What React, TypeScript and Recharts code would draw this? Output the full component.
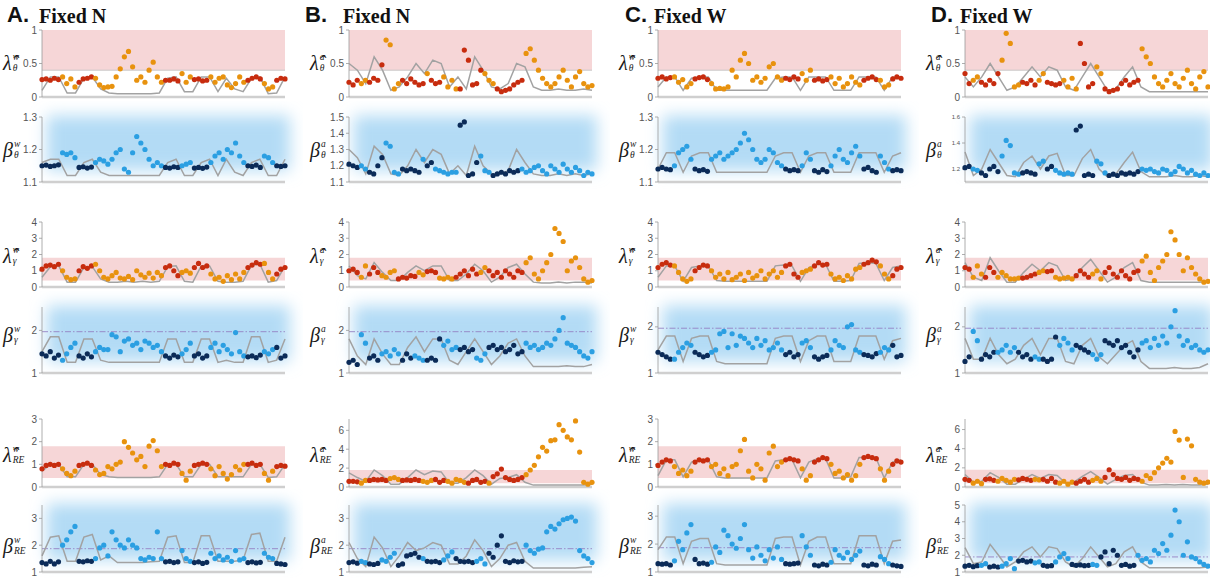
import React from 'react';
import { ComposedChart, Scatter, Line, XAxis, YAxis, ReferenceArea, ReferenceLine } from 'recharts';

const RED = '#c72c0e';
const ORANGE = '#e8920e';
const SKY = '#2b9fe2';
const NAVY = '#0b2b58';
const GRAY = '#a2a2a2';
const PINK = '#f6d6d7';
const GLOW = '#b3dbf5';
const PLOT_W = 243;

// Dark/light regime as alternating run lengths, starting with the dark regime
const stateA = [5, 4, 4, 17, 4, 3, 4, 9, 4, 3, 3];
const stateC = [4, 5, 4, 18, 4, 3, 4, 8, 4, 3, 3];
const stateB1 = [3, 2, 4, 4, 6, 1, 3, 4, 6, 3, 7, 17];
const stateB2 = [3, 2, 4, 4, 5, 1, 2, 6, 5, 3, 7, 18];
const stateB3 = [3, 2, 3, 4, 5, 2, 3, 4, 6, 2, 9, 17];
const stateB4 = [3, 2, 3, 5, 3, 3, 4, 4, 4, 3, 9, 17];
const stateB5 = [3, 2, 5, 3, 5, 3, 3, 5, 5, 1, 8, 17];
const stateB6 = [3, 2, 3, 4, 6, 1, 4, 3, 5, 3, 9, 17];
const stateD1 = [2, 2, 5, 5, 4, 2, 4, 4, 4, 2, 9, 17];
const stateD2 = [2, 2, 5, 5, 4, 2, 2, 5, 5, 3, 8, 17];
const stateD3 = [2, 3, 3, 6, 4, 2, 2, 5, 4, 3, 9, 17];
const stateD4 = [2, 2, 4, 5, 4, 2, 4, 4, 4, 3, 9, 17];
const stateD5 = [2, 3, 3, 5, 4, 2, 4, 4, 4, 3, 9, 17];
const stateD6 = [4, 2, 3, 4, 4, 2, 3, 4, 5, 2, 9, 18];

// Column A
const A1_dots = [.26,.27,.25,.28,.26,.3,.2,.27,.15,.22,.27,.28,.3,.28,.18,.14,.15,.16,.3,.42,.6,.68,.45,.25,.3,.22,.4,.52,.3,.22,.25,.25,.27,.24,.35,.22,.3,.26,.27,.24,.25,.3,.22,.28,.3,.18,.14,.2,.3,.22,.25,.28,.3,.27,.2,.12,.15,.25,.28,.27];
const A1_gray = [.1,.3,.3,.06,.06,.28,.3,.12,.06,.05,.05,.05,.05,.05,.06,.28,.3,.08,.08,.3,.3,.08,.28,.12,.08,.28,.3,.05,.06,.3];
const A2_dots = [1.15,1.152,1.148,1.15,1.153,1.19,1.185,1.19,1.175,1.145,1.147,1.143,1.146,1.16,1.17,1.165,1.155,1.17,1.19,1.2,1.14,1.13,1.19,1.24,1.22,1.2,1.17,1.15,1.16,1.15,1.145,1.143,1.147,1.145,1.15,1.155,1.16,1.143,1.145,1.142,1.146,1.16,1.18,1.19,1.17,1.2,1.19,1.22,1.18,1.16,1.15,1.148,1.152,1.145,1.18,1.175,1.16,1.15,1.148,1.15];
const A2_gray = [1.16,1.17,1.17,1.12,1.12,1.16,1.17,1.13,1.12,1.12,1.12,1.12,1.12,1.12,1.12,1.16,1.17,1.12,1.12,1.16,1.17,1.12,1.17,1.13,1.12,1.16,1.17,1.12,1.12,1.17];
const A3_dots = [1.1,1.3,1.35,1.25,1.4,1.0,0.6,0.45,0.5,1.0,1.25,1.15,1.3,1.4,1.0,0.6,0.5,0.7,0.9,0.55,0.5,0.65,0.45,1.0,0.75,0.6,0.85,0.55,0.9,0.7,1.2,1.3,1.0,0.7,0.9,1.0,0.85,1.2,1.45,1.2,1.3,0.8,0.5,0.6,0.35,0.7,0.45,0.8,0.5,0.9,1.2,1.35,1.5,1.4,1.45,0.9,0.5,0.8,1.1,1.2];
const A3_gray = [0.6,1.25,1.3,0.3,0.3,1.2,1.25,0.5,0.3,0.3,0.35,0.3,0.35,0.3,0.35,1.25,1.3,0.35,0.3,1.3,1.3,0.35,0.3,0.3,0.35,1.35,1.4,0.3,0.4,1.3];
const A4_dots = [1.45,1.4,1.5,1.35,1.42,1.3,1.45,1.6,1.7,1.4,1.35,1.45,1.38,1.5,1.6,1.55,1.55,1.9,1.85,1.5,1.75,1.8,1.65,1.7,1.55,1.75,1.7,1.6,1.65,1.5,1.4,1.35,1.42,1.38,1.45,1.55,1.7,1.4,1.45,1.35,1.4,1.6,1.7,1.5,1.65,1.55,1.45,1.95,1.5,1.4,1.38,1.4,1.36,1.42,1.5,1.45,1.55,1.6,1.35,1.4];
const A4_gray = [1.5,1.85,1.85,1.25,1.25,1.8,1.8,1.3,1.25,1.25,1.25,1.25,1.25,1.25,1.25,1.8,1.8,1.25,1.25,1.8,1.8,1.25,1.3,1.25,1.25,1.85,1.85,1.25,1.3,1.8];
const A5_dots = [0.8,0.95,1.0,0.95,1.0,0.8,0.6,0.5,0.7,0.95,1.0,1.05,0.95,0.75,0.55,0.6,0.9,0.8,1.0,1.1,2.0,1.75,1.5,1.2,1.35,0.9,1.8,2.05,1.6,0.9,1.0,0.95,1.05,1.0,0.6,0.3,0.7,0.95,1.0,1.05,1.0,0.8,0.5,0.9,0.6,0.35,0.55,0.9,0.75,1.0,1.0,1.05,0.95,1.0,0.6,0.3,0.7,0.9,0.95,0.92];
const A5_gray = [0.7,1.0,1.0,0.45,0.45,1.0,1.0,0.55,0.45,0.42,0.42,0.42,0.42,0.42,0.45,1.0,1.0,0.45,0.45,1.0,1.0,0.45,0.45,0.45,0.45,1.0,1.0,0.42,0.45,1.0];
const A6_dots = [1.35,1.3,1.4,1.3,1.38,2.0,2.2,2.5,2.7,1.4,1.38,1.42,1.4,1.5,1.9,2.0,1.6,2.5,2.2,2.0,1.9,2.2,2.0,1.9,1.5,1.45,1.55,1.5,2.5,1.5,1.38,1.4,1.35,1.38,1.8,1.5,1.4,1.35,1.38,1.32,1.36,1.7,1.5,1.6,1.45,1.55,1.4,1.8,1.45,1.5,1.35,1.38,1.34,1.36,1.7,1.55,1.5,1.32,1.3,1.28];
const A6_gray = [1.6,2.3,2.35,1.4,1.4,2.3,2.4,1.45,1.6,1.35,1.35,1.35,1.35,1.38,1.4,2.3,2.35,1.35,1.35,2.35,2.35,1.4,1.4,1.4,1.45,2.4,2.45,1.4,1.4,2.3];

// Column B
const B1_dots = [.22,.18,.25,.2,.25,.22,.28,.25,.48,.85,.78,.12,.2,.25,.2,.27,.22,.18,.2,.35,.25,.2,.22,.3,.15,.25,.12,.12,.7,.55,.18,.2,.4,.35,.25,.2,.12,.08,.1,.12,.18,.22,.25,.65,.72,.55,.4,.28,.2,.15,.2,.3,.4,.25,.15,.3,.38,.2,.15,.17];
const B1_gray = [.5,.4,.2,.6,.4,.1,.15,.3,.5,.35,.55,.5,.15,.3,.12,.6,.4,.15,.12,.2,.5,.45,.15,.1,.1,.12,.1,.1,.12,.1];
const B2_dots = [1.21,1.2,1.19,1.2,1.18,1.16,1.15,1.2,1.25,1.34,1.32,1.16,1.15,1.18,1.17,1.18,1.17,1.16,1.24,1.2,1.22,1.18,1.17,1.16,1.15,1.16,1.16,1.45,1.47,1.14,1.15,1.22,1.26,1.17,1.16,1.14,1.15,1.16,1.15,1.17,1.16,1.17,1.18,1.16,1.17,1.19,1.2,1.17,1.15,1.2,1.18,1.16,1.21,1.18,1.16,1.19,1.17,1.14,1.16,1.15];
const B2_gray = [1.3,1.25,1.15,1.32,1.27,1.15,1.14,1.2,1.3,1.22,1.3,1.27,1.15,1.2,1.14,1.32,1.2,1.15,1.15,1.17,1.3,1.22,1.15,1.14,1.14,1.15,1.14,1.15,1.14,1.15];
const B3_dots = [1.0,1.1,0.9,0.6,1.3,0.8,1.2,0.9,0.7,0.6,0.9,1.0,0.5,0.6,0.55,0.7,0.65,0.9,0.75,0.95,1.0,0.9,0.55,0.5,0.6,0.5,0.6,0.8,1.0,0.7,1.1,0.8,0.9,1.2,1.0,0.7,0.9,0.6,1.0,0.8,0.6,1.0,0.9,1.5,1.8,0.8,0.5,1.0,1.5,2.0,3.6,3.3,2.8,1.0,1.6,1.8,1.2,0.5,0.3,0.4];
const B3_gray = [1.3,0.7,0.5,1.5,0.9,0.4,0.4,0.9,1.3,1.0,1.3,1.3,0.4,0.4,0.8,1.4,1.0,0.3,0.6,1.2,1.4,0.8,0.3,0.25,0.25,0.3,0.25,0.3,0.3,0.25];
const B4_dots = [1.25,1.3,1.2,1.9,1.7,1.35,1.4,1.3,1.45,1.5,1.4,1.55,1.45,1.3,1.45,1.35,1.4,1.35,1.3,1.3,1.35,1.3,1.8,1.65,1.75,1.55,1.6,1.55,1.6,1.5,1.55,1.35,1.3,1.45,1.6,1.65,1.55,1.6,1.5,1.55,1.65,1.45,1.5,1.7,1.6,1.65,1.55,1.6,1.7,1.65,1.8,2.0,2.3,1.7,1.65,1.6,1.5,1.4,1.35,1.5];
const B4_gray = [1.8,1.4,1.2,1.8,1.45,1.2,1.2,1.6,1.85,1.5,1.8,1.8,1.3,1.2,1.5,1.8,1.5,1.2,1.4,1.7,1.8,1.4,1.15,1.15,1.15,1.15,1.17,1.15,1.15,1.2];
const B5_dots = [.6,.6,.55,.4,.7,.7,.8,.75,.8,.7,.9,1.0,.8,.7,.75,.7,.8,.7,.6,.5,.7,.8,.5,.7,.6,.4,.8,.7,.5,.4,.7,.8,.5,.6,.4,1.1,1.4,1.9,1.0,.8,.7,.8,1.0,1.3,1.8,2.3,3.2,4.2,3.8,4.9,5.0,6.6,6.0,5.3,5.0,7.0,3.7,.5,.3,.5];
const B5_gray = [1.5,1.0,0.6,1.8,1.2,0.3,0.3,1.0,1.8,1.3,1.7,1.6,0.4,0.4,1.0,1.8,1.2,0.3,0.9,1.0,1.3,0.5,0.2,0.2,0.2,0.2,0.2,0.2,0.2,0.3];
const B6_dots = [1.35,1.38,1.33,1.4,1.35,1.3,1.28,1.32,1.45,1.4,1.55,1.7,1.25,1.3,1.6,1.65,1.7,1.55,1.5,1.4,1.38,1.4,1.35,1.45,1.6,1.75,1.5,1.4,1.38,1.4,1.35,1.4,1.5,1.3,1.7,1.55,2.0,2.35,1.4,1.35,1.42,1.38,1.4,2.0,1.8,1.7,1.85,1.9,2.5,2.7,2.6,2.8,2.95,3.0,3.05,2.9,1.8,1.6,1.5,1.35];
const B6_gray = [2.1,1.5,1.2,2.3,1.9,1.2,1.6,2.1,1.8,1.9,2.1,2.0,1.3,1.3,1.6,2.2,1.8,1.2,1.5,2.0,2.1,1.4,1.15,1.15,1.15,1.15,1.15,1.15,1.18,1.2];

// Column C
const C1_dots = [.28,.3,.27,.29,.3,.22,.26,.15,.2,.27,.29,.3,.26,.2,.12,.13,.12,.15,.4,.3,.55,.65,.5,.25,.3,.22,.28,.45,.5,.3,.25,.28,.26,.3,.27,.35,.25,.4,.25,.27,.24,.26,.3,.2,.28,.15,.2,.3,.22,.18,.25,.28,.3,.26,.25,.15,.18,.27,.3,.28];
const C1_gray = [.15,.3,.3,.1,.28,.3,.3,.1,.1,.1,.1,.1,.1,.1,.28,.3,.3,.1,.3,.3,.3,.1,.1,.1,.3,.3,.3,.1,.3,.3];
const C2_dots = [1.14,1.145,1.14,1.138,1.15,1.19,1.2,1.21,1.17,1.14,1.135,1.138,1.133,1.17,1.18,1.19,1.17,1.18,1.19,1.2,1.22,1.25,1.23,1.2,1.17,1.16,1.17,1.2,1.19,1.16,1.15,1.14,1.135,1.138,1.135,1.15,1.19,1.17,1.135,1.13,1.138,1.132,1.15,1.18,1.2,1.17,1.16,1.19,1.21,1.18,1.14,1.145,1.135,1.13,1.18,1.16,1.14,1.135,1.138,1.135];
const C2_gray = [1.14,1.19,1.19,1.13,1.18,1.19,1.19,1.13,1.13,1.13,1.13,1.13,1.13,1.13,1.18,1.19,1.19,1.13,1.18,1.19,1.19,1.13,1.13,1.13,1.19,1.19,1.19,1.13,1.18,1.19];
const C3_dots = [1.2,1.4,1.5,1.35,1.3,0.9,0.5,0.35,0.5,1.0,1.2,1.35,1.3,1.0,0.6,0.8,0.5,0.9,0.45,0.6,0.8,0.4,0.9,0.55,0.7,1.0,0.5,0.8,1.0,0.6,0.9,1.3,1.4,0.8,0.6,0.9,1.0,1.1,1.3,1.5,1.35,1.4,0.8,0.5,0.6,0.4,0.7,0.5,1.1,1.2,1.4,1.5,1.65,1.55,1.3,0.8,0.5,0.7,1.1,1.2];
const C3_gray = [0.6,1.3,1.3,0.35,1.2,1.3,1.3,0.4,0.35,0.35,0.35,0.35,0.35,0.35,1.3,1.35,1.3,0.35,1.2,1.4,1.4,0.35,0.35,0.4,1.45,1.5,1.45,0.4,1.2,1.3];
const C4_dots = [1.45,1.4,1.35,1.3,1.3,1.45,1.55,1.65,1.6,1.45,1.4,1.35,1.38,1.45,1.5,1.85,1.9,1.55,1.85,1.6,1.8,1.75,1.65,1.55,1.75,1.6,1.7,1.5,1.55,1.65,1.5,1.4,1.45,1.35,1.4,1.65,1.7,1.55,1.35,1.3,1.35,1.38,1.5,1.7,1.6,1.55,2.0,2.05,1.5,1.45,1.4,1.38,1.35,1.42,1.45,1.55,1.5,1.6,1.35,1.38];
const C4_gray = [1.5,1.8,1.8,1.25,1.75,1.8,1.8,1.25,1.2,1.2,1.2,1.2,1.2,1.2,1.75,1.8,1.8,1.25,1.7,1.8,1.8,1.25,1.25,1.25,1.8,1.8,1.8,1.3,1.7,1.75];
const C5_dots = [0.95,1.1,1.2,1.15,0.9,0.6,0.75,0.5,0.7,1.1,1.2,1.15,1.2,0.9,1.0,0.6,0.8,0.5,0.9,1.0,1.6,2.1,0.7,0.4,1.0,0.8,0.3,1.5,1.8,0.9,1.1,1.2,1.25,1.2,1.15,0.8,0.3,0.5,1.1,1.2,1.3,1.25,1.0,0.6,0.7,0.4,0.55,0.3,0.5,1.0,1.3,1.35,1.3,1.25,0.8,0.3,0.7,1.0,1.15,1.1];
const C5_gray = [0.5,1.2,1.2,0.45,1.1,1.2,1.2,0.45,0.4,0.4,0.4,0.4,0.4,0.4,1.15,1.2,1.2,0.4,1.1,1.25,1.25,0.4,0.4,0.45,1.3,1.3,1.3,0.4,1.1,1.2];
const C6_dots = [1.3,1.28,1.3,1.25,1.4,2.1,1.8,2.4,2.7,1.45,1.3,1.32,1.28,1.35,1.9,1.7,2.5,2.3,2.0,1.85,2.2,2.7,1.8,1.5,1.9,1.6,1.4,1.8,1.5,1.9,1.45,1.3,1.28,1.3,1.32,2.3,1.9,1.6,1.25,1.22,1.28,1.25,1.35,1.8,1.6,1.5,1.7,1.45,1.6,1.75,1.25,1.22,1.28,1.25,1.55,1.45,1.3,1.25,1.22,1.2];
const C6_gray = [1.8,2.25,2.25,1.3,2.1,2.2,2.2,1.3,1.25,1.25,1.25,1.25,1.25,1.25,2.2,2.25,2.25,1.25,2.1,2.25,2.25,1.3,1.3,1.3,2.3,2.3,2.3,1.3,2.1,2.15];

// Column D
const D1_dots = [.35,.2,.25,.3,.22,.18,.25,.2,.35,.55,.95,.8,.15,.18,.22,.2,.25,.18,.25,.35,.22,.2,.18,.2,.25,.15,.28,.12,.8,.5,.15,.2,.45,.35,.12,.08,.1,.12,.2,.25,.18,.22,.25,.72,.6,.5,.3,.2,.15,.25,.35,.2,.15,.28,.4,.2,.12,.3,.38,.15];
const D1_gray = [.3,.15,.3,.5,.3,.1,.15,.3,.45,.3,.45,.4,.15,.1,.3,.5,.3,.1,.12,.3,.45,.15,.08,.08,.08,.08,.08,.08,.08,.08];
const D2_dots = [1.21,1.22,1.2,1.19,1.17,1.15,1.2,1.22,1.18,1.3,1.42,1.38,1.17,1.16,1.17,1.18,1.17,1.16,1.24,1.26,1.2,1.22,1.19,1.17,1.16,1.17,1.16,1.5,1.53,1.15,1.16,1.15,1.26,1.24,1.17,1.15,1.16,1.15,1.17,1.16,1.17,1.16,1.18,1.2,1.19,1.2,1.18,1.17,1.2,1.19,1.16,1.18,1.22,1.2,1.17,1.19,1.16,1.15,1.17,1.15];
const D2_gray = [1.33,1.15,1.2,1.35,1.25,1.15,1.14,1.25,1.3,1.2,1.3,1.32,1.15,1.15,1.28,1.35,1.2,1.14,1.16,1.25,1.33,1.18,1.14,1.14,1.14,1.15,1.14,1.14,1.15,1.14];
const D3_dots = [1.2,1.1,0.6,1.3,0.8,0.6,1.2,0.9,0.6,0.9,0.7,0.5,0.5,0.55,0.55,0.6,0.7,0.8,0.9,1.0,0.95,1.0,0.6,0.5,0.55,0.6,0.5,0.7,1.0,0.8,0.6,0.8,1.0,0.5,0.9,1.2,0.8,0.6,1.0,0.7,0.5,0.9,1.0,1.6,1.9,0.9,0.4,1.2,1.6,2.0,3.4,2.9,2.0,1.0,1.8,1.2,0.8,0.5,0.3,0.35];
const D3_gray = [1.5,0.6,0.4,1.8,1.0,0.3,0.3,0.9,1.4,1.0,1.5,1.3,0.4,0.5,1.2,1.7,1.0,0.3,0.6,1.2,1.5,0.4,0.3,0.3,0.3,0.3,0.3,0.3,0.3,0.35];
const D4_dots = [1.25,1.35,1.9,1.7,1.3,1.4,1.35,1.45,1.45,1.5,1.6,1.45,1.55,1.45,1.35,1.4,1.3,1.35,1.3,1.3,1.25,1.3,1.78,1.6,1.75,1.65,1.5,1.6,1.55,1.5,1.45,1.4,1.3,1.4,1.7,1.65,1.6,1.7,1.55,1.6,1.45,1.35,1.5,1.65,1.7,1.55,1.75,1.6,1.8,1.65,2.0,2.35,1.8,1.6,1.7,1.55,1.6,1.5,1.45,1.5];
const D4_gray = [1.75,1.3,1.3,1.75,1.4,1.2,1.3,1.6,1.75,1.4,1.75,1.75,1.25,1.2,1.6,1.75,1.35,1.2,1.4,1.6,1.7,1.25,1.1,1.1,1.1,1.12,1.1,1.1,1.12,1.2];
const D5_dots = [.8,.7,.4,.6,.35,.8,.85,.7,.6,.9,.7,.5,.8,.75,.9,.8,.7,.8,.75,.8,.6,.9,.5,.4,.6,.3,.5,.4,.6,.8,.5,.7,.9,.6,1.0,1.8,1.3,.9,.8,1.0,.7,.9,.8,.6,1.2,.9,1.5,2.0,2.5,3.0,2.6,5.8,4.9,1.0,5.0,4.3,.8,.5,.4,.5];
const D5_gray = [1.3,0.5,0.6,1.5,1.0,0.3,0.3,0.8,1.3,0.9,1.3,1.2,0.4,0.5,1.1,1.6,1.0,0.3,0.8,1.2,1.3,0.5,0.2,0.2,0.25,0.2,0.25,0.2,0.2,0.3];
const D6_dots = [1.35,1.4,1.32,1.38,1.4,1.5,1.3,1.35,1.3,1.35,1.5,1.8,1.2,1.65,1.7,1.6,1.65,1.55,1.6,1.4,1.35,1.38,1.6,1.9,2.1,1.8,1.45,1.4,1.42,1.38,1.4,1.45,1.4,1.9,2.2,1.5,2.3,2.0,1.4,1.45,1.35,1.4,2.0,1.7,1.8,1.6,2.3,2.1,2.7,2.3,3.2,4.7,4.0,2.0,2.8,1.9,1.8,1.6,1.45,1.35];
const D6_gray = [2.45,1.5,1.6,2.65,2.0,1.3,1.6,2.2,2.5,1.9,2.5,2.4,1.6,1.3,1.8,2.5,1.9,1.3,1.5,2.2,2.5,1.6,1.25,1.25,1.25,1.25,1.25,1.25,1.25,1.3];

// Axis ticks
const ticksLamTheta = [0, 0.5, 1];
const ticksBetaThetaA = [1.1, 1.2, 1.3];
const ticksBetaThetaB = [1.1, 1.2, 1.3, 1.4, 1.5];
const ticksBetaThetaD = [1.2, 1.4, 1.6];
const ticksLamGamma = [0, 1, 2, 3, 4];
const ticksBetaGamma = [1, 2];
const ticksLamRE3 = [0, 1, 2, 3];
const ticksLamRE6 = [0, 2, 4, 6];
const ticksBetaRE3 = [1, 2, 3];
const ticksBetaRE5 = [1, 2, 3, 4, 5];

const COLS = [
  { x: 42, letter: 'A.', title: 'Fixed N', lx: 7, tx: 39, sup: 'w' },
  { x: 349, letter: 'B.', title: 'Fixed N', lx: 305, tx: 343, sup: 'a' },
  { x: 658, letter: 'C.', title: 'Fixed W', lx: 625, tx: 654, sup: 'w' },
  { x: 965, letter: 'D.', title: 'Fixed W', lx: 931, tx: 960, sup: 'a' },
];

type RowDef = { top: number; h: number; lam: boolean; sym: string; sub: string; band?: [number, number]; base?: number; cy: number };
const ROWS: RowDef[] = [
  { top: 30, h: 67, lam: true, sym: 'λ\u0302', sub: 'θ', band: [0.4, 1], base: 0.4, cy: 63 },
  { top: 117, h: 65, lam: false, sym: 'β', sub: 'θ', cy: 150 },
  { top: 222, h: 65, lam: true, sym: 'λ\u0302', sub: 'γ', band: [0.4, 1.8], cy: 256 },
  { top: 307, h: 66, lam: false, sym: 'β', sub: 'γ', cy: 335 },
  { top: 419, h: 68, lam: true, sym: 'λ\u0302', sub: 'RE', band: [0.4, 1.8], cy: 455 },
  { top: 505, h: 67, lam: false, sym: 'β', sub: 'RE', cy: 546 },
];

type PanelDef = { id: string; col: number; row: number; dots: number[]; gray: number[]; runs: number[]; domain: [number, number]; ticks: number[]; dash?: number; tickSize?: number };

const PANELS: PanelDef[] = [
  { id: 'A1', col: 0, row: 0, dots: A1_dots, gray: A1_gray, runs: stateA, domain: [0, 1], ticks: ticksLamTheta },
  { id: 'A2', col: 0, row: 1, dots: A2_dots, gray: A2_gray, runs: stateA, domain: [1.1, 1.3], ticks: ticksBetaThetaA },
  { id: 'A3', col: 0, row: 2, dots: A3_dots, gray: A3_gray, runs: stateA, domain: [0, 4], ticks: ticksLamGamma },
  { id: 'A4', col: 0, row: 3, dots: A4_dots, gray: A4_gray, runs: stateA, domain: [1, 2.55], ticks: ticksBetaGamma, dash: 1.97 },
  { id: 'A5', col: 0, row: 4, dots: A5_dots, gray: A5_gray, runs: stateA, domain: [0, 3], ticks: ticksLamRE3 },
  { id: 'A6', col: 0, row: 5, dots: A6_dots, gray: A6_gray, runs: stateA, domain: [1, 3.5], ticks: ticksBetaRE3, dash: 1.87 },
  { id: 'B1', col: 1, row: 0, dots: B1_dots, gray: B1_gray, runs: stateB1, domain: [0, 1], ticks: ticksLamTheta },
  { id: 'B2', col: 1, row: 1, dots: B2_dots, gray: B2_gray, runs: stateB2, domain: [1.1, 1.5], ticks: ticksBetaThetaB },
  { id: 'B3', col: 1, row: 2, dots: B3_dots, gray: B3_gray, runs: stateB3, domain: [0, 4], ticks: ticksLamGamma },
  { id: 'B4', col: 1, row: 3, dots: B4_dots, gray: B4_gray, runs: stateB4, domain: [1, 2.55], ticks: ticksBetaGamma, dash: 1.97 },
  { id: 'B5', col: 1, row: 4, dots: B5_dots, gray: B5_gray, runs: stateB5, domain: [0, 7.2], ticks: ticksLamRE6 },
  { id: 'B6', col: 1, row: 5, dots: B6_dots, gray: B6_gray, runs: stateB6, domain: [1, 3.5], ticks: ticksBetaRE3, dash: 1.87 },
  { id: 'C1', col: 2, row: 0, dots: C1_dots, gray: C1_gray, runs: stateC, domain: [0, 1], ticks: ticksLamTheta },
  { id: 'C2', col: 2, row: 1, dots: C2_dots, gray: C2_gray, runs: stateC, domain: [1.1, 1.3], ticks: ticksBetaThetaA },
  { id: 'C3', col: 2, row: 2, dots: C3_dots, gray: C3_gray, runs: stateC, domain: [0, 4], ticks: ticksLamGamma },
  { id: 'C4', col: 2, row: 3, dots: C4_dots, gray: C4_gray, runs: stateC, domain: [1, 2.43], ticks: ticksBetaGamma, dash: 1.97 },
  { id: 'C5', col: 2, row: 4, dots: C5_dots, gray: C5_gray, runs: stateC, domain: [0, 3], ticks: ticksLamRE3 },
  { id: 'C6', col: 2, row: 5, dots: C6_dots, gray: C6_gray, runs: stateC, domain: [1, 3.4], ticks: ticksBetaRE3, dash: 1.87 },
  { id: 'D1', col: 3, row: 0, dots: D1_dots, gray: D1_gray, runs: stateD1, domain: [0, 1], ticks: ticksLamTheta },
  { id: 'D2', col: 3, row: 1, dots: D2_dots, gray: D2_gray, runs: stateD2, domain: [1.1, 1.6], ticks: ticksBetaThetaD, tickSize: 6 },
  { id: 'D3', col: 3, row: 2, dots: D3_dots, gray: D3_gray, runs: stateD3, domain: [0, 4], ticks: ticksLamGamma },
  { id: 'D4', col: 3, row: 3, dots: D4_dots, gray: D4_gray, runs: stateD4, domain: [1, 2.43], ticks: ticksBetaGamma, dash: 1.97 },
  { id: 'D5', col: 3, row: 4, dots: D5_dots, gray: D5_gray, runs: stateD5, domain: [0, 7.1], ticks: ticksLamRE6 },
  { id: 'D6', col: 3, row: 5, dots: D6_dots, gray: D6_gray, runs: stateD6, domain: [1, 5], ticks: ticksBetaRE5, dash: 1.9 },
];

function expand(runs: number[]): boolean[] {
  const out: boolean[] = [];
  runs.forEach((n, k) => {
    for (let i = 0; i < n; i++) out.push(k % 2 === 0);
  });
  return out;
}

const SANS = '"Liberation Sans", Arial, Helvetica, sans-serif';
const SERIF = '"Liberation Serif", "Times New Roman", serif';

// Italic symbol with stacked superscript and subscript, e.g. λ̂ with w over θ
function AxisLabel({ left, cy, sym, sup, sub }: { left: number; cy: number; sym: string; sup: string; sub: string }) {
  return (
    <div style={{ position: 'absolute', left, top: cy - 16, height: 32, display: 'flex', alignItems: 'center', fontFamily: SERIF, fontStyle: 'italic', color: '#1a1a1a', whiteSpace: 'nowrap' }}>
      <span style={{ fontSize: 20, lineHeight: '22px' }}>{sym}</span>
      <span style={{ display: 'flex', flexDirection: 'column', fontSize: 9.5, lineHeight: '11px', marginLeft: 1 }}>
        <span>{sup}</span>
        <span>{sub}</span>
      </span>
    </div>
  );
}

function Panel({ p }: { p: PanelDef }) {
  const col = COLS[p.col];
  const row = ROWS[p.row];
  const YW = 26, MT = 16, MR = 18, MB = 8;
  const W = YW + PLOT_W + MR;
  const H = MT + row.h + MB;
  const flags = expand(p.runs);
  const dark = row.lam ? RED : NAVY;
  const light = row.lam ? ORANGE : SKY;
  const dotData = p.dots.map((y, i) => ({ x: i / (p.dots.length - 1), y, c: flags[i] ? dark : light }));
  const lineData = p.gray.map((y, j) => ({ x: j / (p.gray.length - 1), y }));
  const [lo, hi] = p.domain;
  const span = hi - lo;
  const fid = `glow-${p.id}`;
  return (
    <div style={{ position: 'absolute', left: col.x - YW, top: row.top - MT }}>
      <ComposedChart width={W} height={H} margin={{ top: MT, right: MR, bottom: MB, left: 0 }}>
        <defs>
          <filter id={fid} x="-30%" y="-80%" width="160%" height="260%">
            <feGaussianBlur stdDeviation="8" />
          </filter>
        </defs>
        <XAxis type="number" dataKey="x" domain={[0, 1]} hide />
        <YAxis
          type="number"
          dataKey="y"
          domain={p.domain}
          ticks={p.ticks}
          width={YW}
          interval={0}
          tick={{ fontSize: p.tickSize ?? 10, fill: '#555', fontFamily: SANS }}
          tickSize={3}
          axisLine={{ stroke: '#999', strokeWidth: 0.8 }}
          tickLine={{ stroke: '#999', strokeWidth: 0.8 }}
        />
        {row.lam && row.band ? (
          <ReferenceArea x1={0} x2={1} y1={row.band[0]} y2={row.band[1]} fill={PINK} fillOpacity={1} stroke="none" ifOverflow="visible" />
        ) : (
          <ReferenceArea
            x1={0.02}
            x2={1.02}
            y1={lo + 0.18 * span}
            y2={hi + 0.02 * span}
            ifOverflow="visible"
            shape={(s: any) => <rect x={s.x} y={s.y} width={s.width} height={s.height} fill={GLOW} filter={`url(#${fid})`} />}
          />
        )}
        {row.base !== undefined && <ReferenceLine y={row.base} stroke="#c8c8c8" strokeWidth={1} />}
        {p.dash !== undefined && <ReferenceLine y={p.dash} stroke="#9582c4" strokeWidth={0.9} strokeDasharray="6 2 1.5 2" />}
        <ReferenceLine y={lo} stroke="#cfcfcf" strokeWidth={2.5} />
        <Line data={lineData} dataKey="y" type="linear" stroke={GRAY} strokeWidth={1.5} dot={false} activeDot={false} isAnimationActive={false} />
        <Scatter
          data={dotData}
          dataKey="y"
          isAnimationActive={false}
          shape={(s: any) => <circle cx={s.cx} cy={s.cy} r={2.6} fill={s.payload.c} />}
        />
      </ComposedChart>
    </div>
  );
}

export default function App() {
  return (
    <div style={{ position: 'absolute', left: 0, top: 0, width: 1210, height: 578, background: '#fff', overflow: 'hidden' }}>
      {PANELS.map((p) => (
        <Panel key={p.id} p={p} />
      ))}
      {COLS.map((c) => (
        <React.Fragment key={c.letter}>
          <div style={{ position: 'absolute', left: c.lx, top: 3, fontFamily: SANS, fontWeight: 'bold', fontSize: 22, lineHeight: '24px', color: '#111' }}>{c.letter}</div>
          <div style={{ position: 'absolute', left: c.tx, top: 4, fontFamily: SERIF, fontWeight: 'bold', fontSize: 20, lineHeight: '24px', color: '#111' }}>{c.title}</div>
        </React.Fragment>
      ))}
      {PANELS.map((p) => {
        const col = COLS[p.col];
        const row = ROWS[p.row];
        return (
          <AxisLabel key={'l' + p.id} left={col.x - 39} cy={row.cy} sym={row.sym} sup={col.sup} sub={row.sub} />
        );
      })}
    </div>
  );
}
